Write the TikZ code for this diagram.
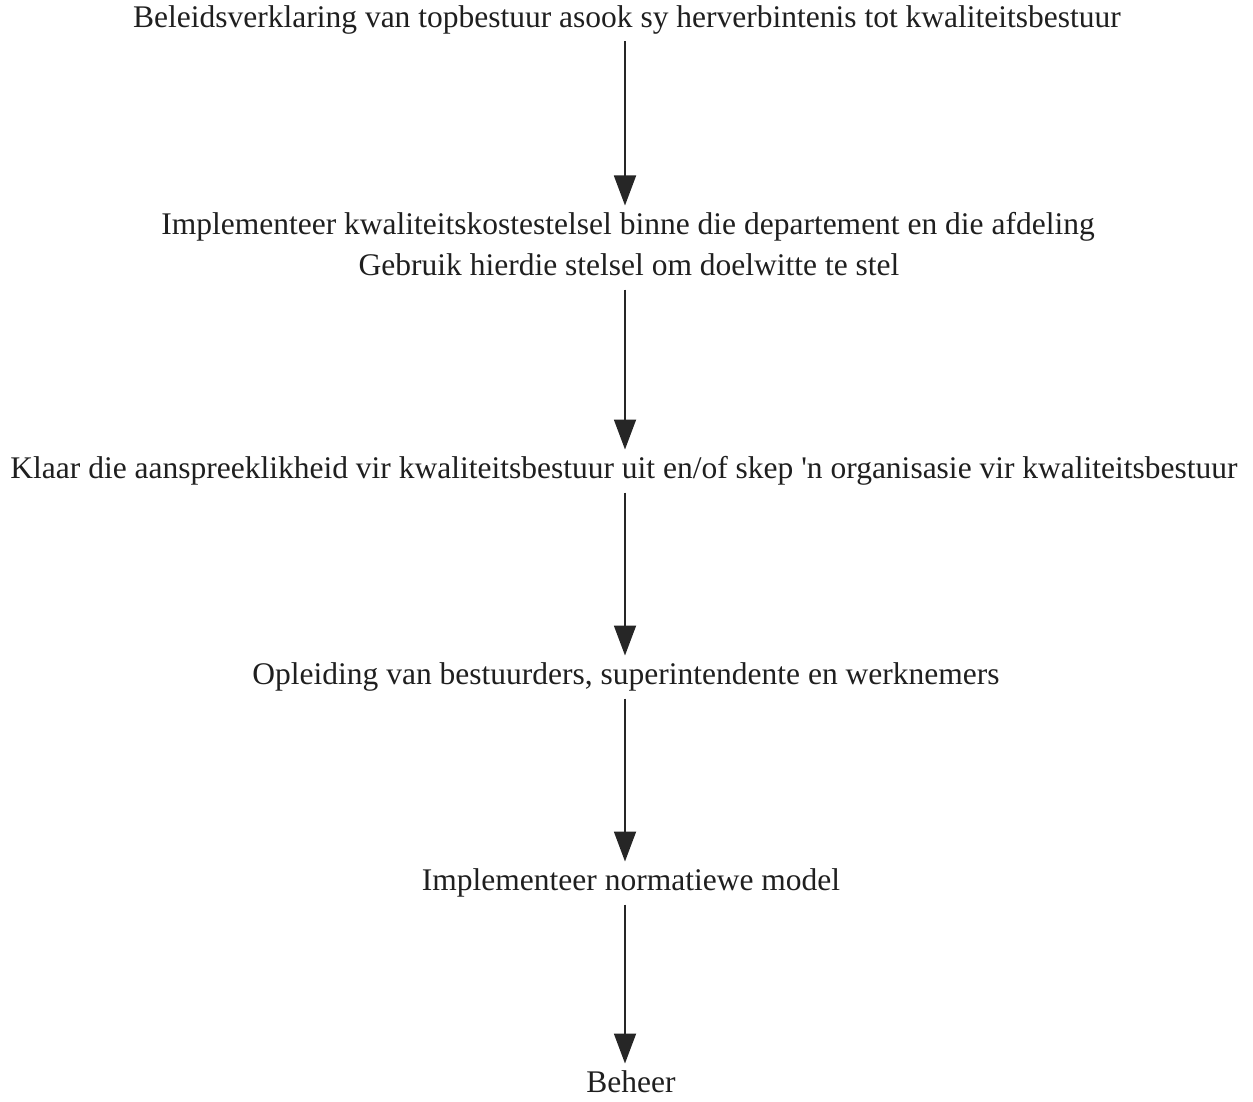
\documentclass[tikz,border=0pt]{standalone}
\usepackage{fontspec}
\setmainfont{Liberation Serif}
\newfontfamily\plainserif{Liberation Serif}
\usetikzlibrary{arrows.meta}
\begin{document}
\begin{tikzpicture}[x=1pt,y=-1pt,
  lbl/.style={inner sep=0pt, outer ysep=7pt, text height=22pt, text depth=7pt, font=\fontsize{31.5}{36}\selectfont, text=black!88},
  arr/.style={line width=1.8pt, draw=black!85, -{Triangle[width=22pt,length=30pt]}}]
\useasboundingbox (0,0) rectangle (1253,1102);
\node[lbl] (n1) at (627,20) {Beleidsverklaring van topbestuur asook sy herverbintenis tot kwaliteitsbestuur};
\node[lbl] (n2a) at (628,227) {Implementeer kwaliteitskostestelsel binne die departement en die afdeling};
\node[lbl] (n2b) at (629,268) {Gebruik hierdie stelsel om doelwitte te stel};
\node[lbl] (n3) at (624,471) {Klaar die aanspreeklikheid vir kwaliteitsbestuur uit en/of skep {\plainserif '}n organisasie vir kwaliteitsbestuur};
\node[lbl] (n4) at (626,677) {Opleiding van bestuurders, superintendente en werknemers};
\node[lbl] (n5) at (631,883) {Implementeer normatiewe model};
\node[lbl] (n6) at (631,1085) {Beheer};
\draw[arr] (n1.south -| 625,0) -- (n2a.north -| 625,0);
\draw[arr] (n2b.south -| 625,0) -- (n3.north -| 625,0);
\draw[arr] (n3.south -| 625,0) -- (n4.north -| 625,0);
\draw[arr] (n4.south -| 625,0) -- (n5.north -| 625,0);
\draw[arr] (n5.south -| 625,0) -- (n6.north -| 625,0);
\end{tikzpicture}
\end{document}
